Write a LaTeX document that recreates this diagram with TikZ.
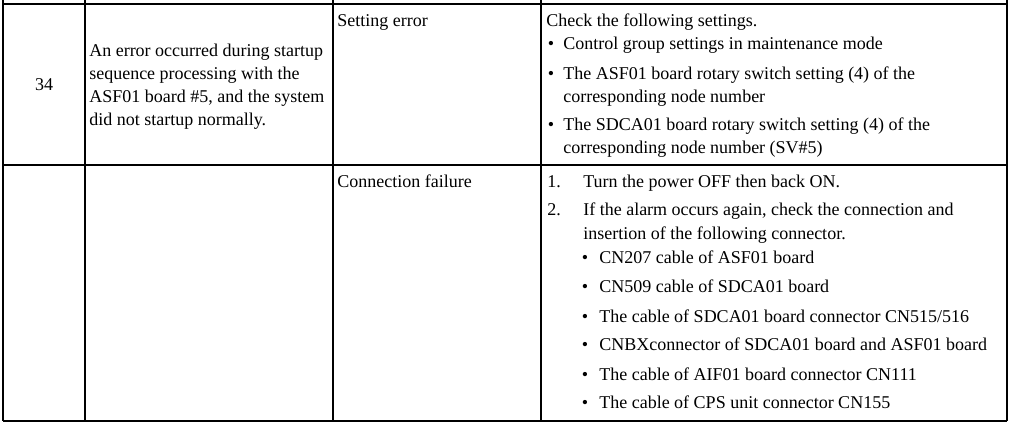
\documentclass[tikz,border=0pt]{standalone}
\usepackage{fontspec}
\setmainfont{Liberation Serif}
\begin{document}
\begin{tikzpicture}[x=0.75pt, y=-0.75pt,
  every node/.style={inner sep=0pt, font=\fontsize{13.5}{16}\selectfont},
  celltext/.style={anchor=base west},
  bulletmark/.style={anchor=base},
  gridline/.style={line width=1.1pt}]
				\useasboundingbox[fill=white] (0,0) rectangle (1012,424);

				% Grid
				\draw[gridline] (3,4) -- (1007,4);
				\draw[gridline] (3,165) -- (1007,165);
				\draw[gridline] (3,421) -- (1007,421);
				\draw[gridline] (3,0) -- (3,421);
				\draw[gridline] (85,0) -- (85,421);
				\draw[gridline] (333,0) -- (333,421);
				\draw[gridline] (541,0) -- (541,421);
				\draw[gridline] (1007,0) -- (1007,421);

				% Nodes, first row
				\node (num) [anchor=base] at (44,91) {34};
				\node (desc1) [celltext] at (89,57) {An error occurred during startup};
				\node (desc2) [celltext] at (89,80) {sequence processing with the};
				\node (desc3) [celltext] at (89,103) {ASF01 board \#5, and the system};
				\node (desc4) [celltext] at (89,126) {did not startup normally.};
				\node (cause1) [celltext] at (337,27) {Setting error};
				\node (check) [celltext] at (546,27) {Check the following settings.};
				\node (dotA) [bulletmark] at (551,50) {\textbullet};
				\node (itemA) [celltext] at (563,50) {Control group settings in maintenance mode};
				\node (dotB) [bulletmark] at (551,80) {\textbullet};
				\node (itemB) [celltext] at (563,80) {The ASF01 board rotary switch setting (4) of the};
				\node (itemBb) [celltext] at (563,103) {corresponding node number};
				\node (dotC) [bulletmark] at (551,131) {\textbullet};
				\node (itemC) [celltext] at (563,131) {The SDCA01 board rotary switch setting (4) of the};
				\node (itemCb) [celltext] at (563,153) {corresponding node number (SV\#5)};

				% Nodes, second row
				\node (cause2) [celltext] at (337,187) {Connection failure};
				\node (stepA) [celltext] at (547,187) {1.};
				\node (stepAtxt) [celltext] at (583,187) {Turn the power OFF then back ON.};
				\node (stepB) [celltext] at (547,215) {2.};
				\node (stepBtxt) [celltext] at (583,215) {If the alarm occurs again, check the connection and};
				\node (stepBtxtb) [celltext] at (583,239) {insertion of the following connector.};
				\node (dot1) [bulletmark] at (585,263) {\textbullet};
				\node (conn1) [celltext] at (599,263) {CN207 cable of ASF01 board};
				\node (dot2) [bulletmark] at (585,292) {\textbullet};
				\node (conn2) [celltext] at (599,292) {CN509 cable of SDCA01 board};
				\node (dot3) [bulletmark] at (585,322) {\textbullet};
				\node (conn3) [celltext] at (599,322) {The cable of SDCA01 board connector CN515/516};
				\node (dot4) [bulletmark] at (585,350) {\textbullet};
				\node (conn4) [celltext] at (599,350) {CNBXconnector of SDCA01 board and ASF01 board};
				\node (dot5) [bulletmark] at (585,380) {\textbullet};
				\node (conn5) [celltext] at (599,380) {The cable of AIF01 board connector CN111};
				\node (dot6) [bulletmark] at (585,408) {\textbullet};
				\node (conn6) [celltext] at (599,408) {The cable of CPS unit connector CN155};
			\end{tikzpicture}
\end{document}
